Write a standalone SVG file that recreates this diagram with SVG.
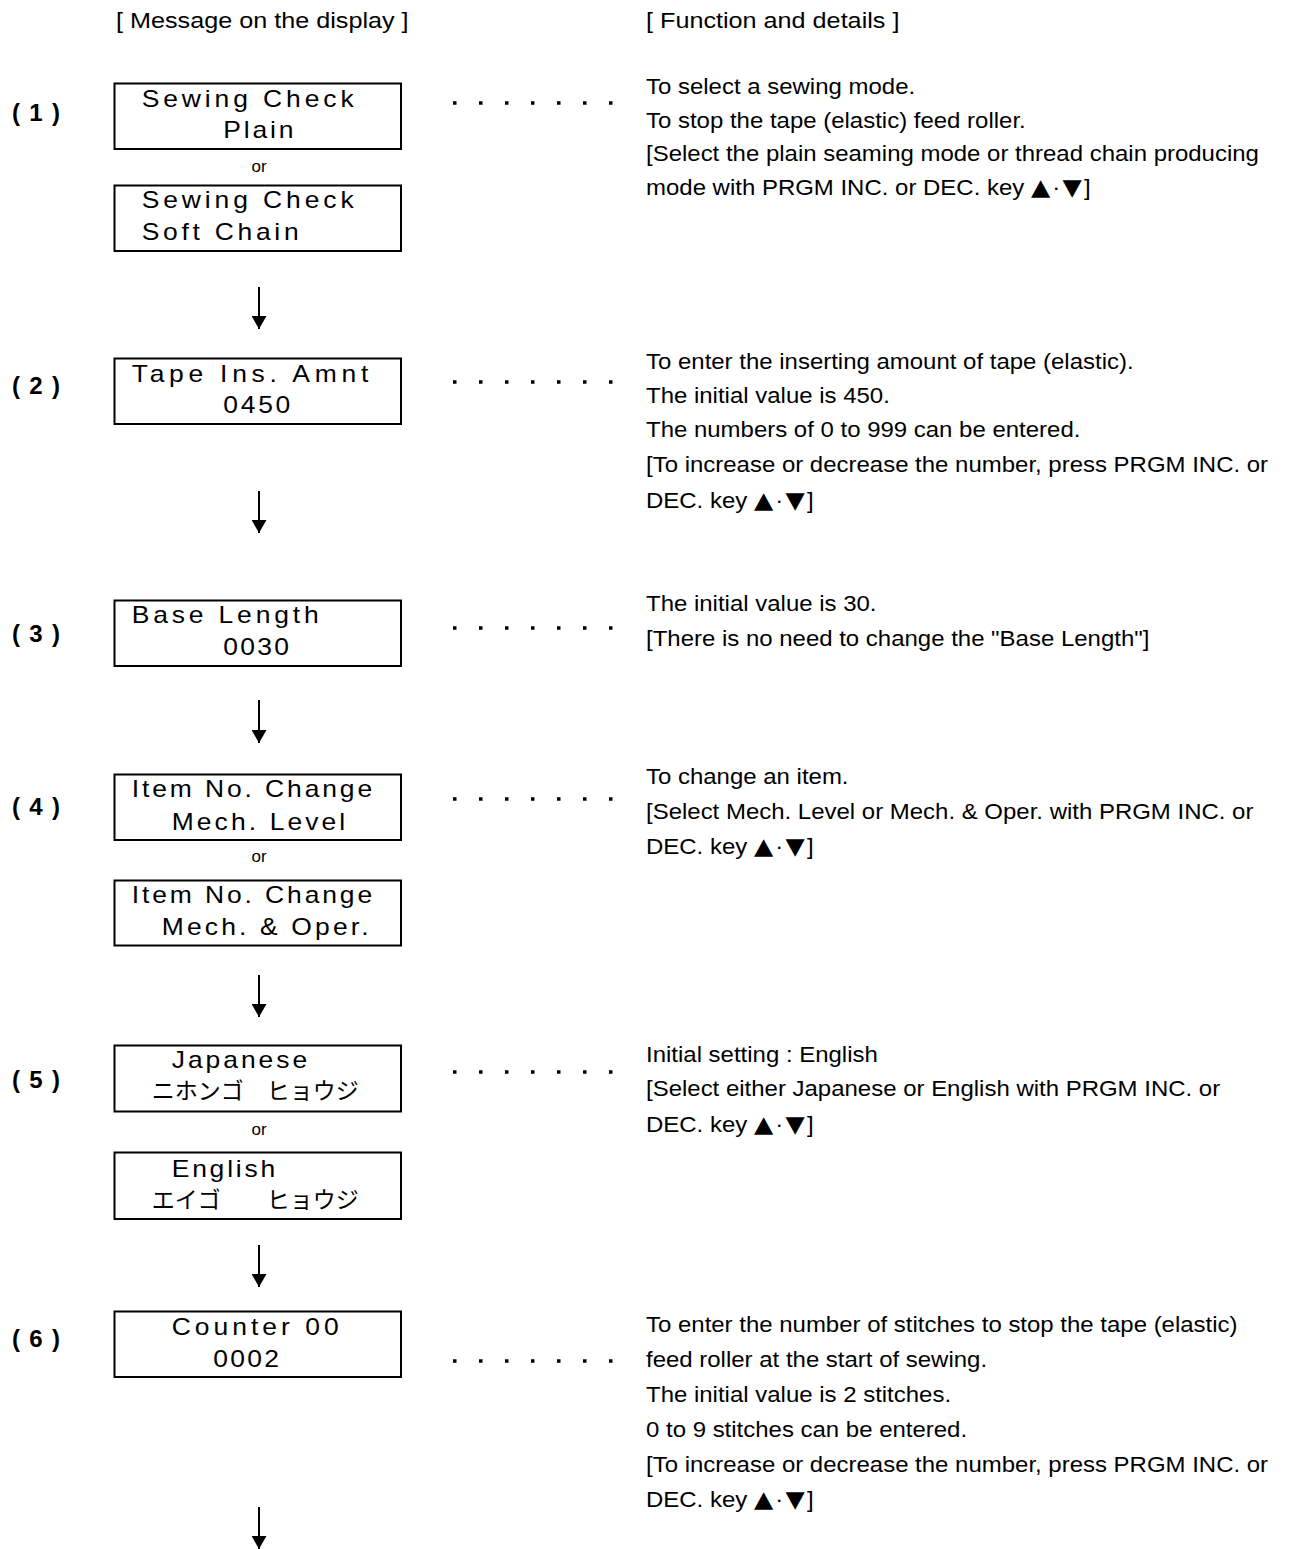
<svg xmlns="http://www.w3.org/2000/svg" width="1290" height="1549" viewBox="0 0 1290 1549">
<style>
.bg{fill:#fff}
.box{fill:#fff;stroke:#000;stroke-width:2}
.lcd{font-family:"Liberation Sans","Noto Sans CJK JP",sans-serif;font-size:23px;fill:#000}
.kana{font-family:"Noto Sans CJK JP",sans-serif;font-size:23px;fill:#000}
.or{font-family:"Liberation Sans",sans-serif;font-size:17px;fill:#000;text-anchor:middle}
.num{font-family:"Liberation Sans",sans-serif;font-size:24px;font-weight:bold;fill:#000}
.hd{font-family:"Liberation Sans",sans-serif;font-size:22.5px;fill:#000}
.tx{font-family:"Liberation Sans",sans-serif;font-size:22px;fill:#000}
.tri{font-family:"DejaVu Sans",sans-serif;font-size:23px}
.arr{stroke:#000;stroke-width:2;fill:none}
.dots{stroke:#000;stroke-width:3.5;stroke-dasharray:3.5 22.5;fill:none}
</style>
<defs>
<marker id="ah" viewBox="0 0 13 15" refX="13" refY="7.5" markerWidth="13" markerHeight="15" markerUnits="userSpaceOnUse" orient="auto">
<path d="M0,0 L13,7.5 L0,15 Z" fill="#000"/>
</marker>
</defs>
<rect class="bg" x="0" y="0" width="1290" height="1549"/>

<g id="headers">
<text class="hd" transform="translate(116,28) scale(1.12,1)">[ Message on the display ]</text>
<text class="hd" transform="translate(646,28) scale(1.12,1)">[ Function and details ]</text>
</g>

<g id="step-labels">
<text class="num" x="12" y="121" textLength="48" lengthAdjust="spacing">(1)</text>
<text class="num" x="12" y="394" textLength="48" lengthAdjust="spacing">(2)</text>
<text class="num" x="12" y="642" textLength="48" lengthAdjust="spacing">(3)</text>
<text class="num" x="12" y="815" textLength="48" lengthAdjust="spacing">(4)</text>
<text class="num" x="12" y="1088" textLength="48" lengthAdjust="spacing">(5)</text>
<text class="num" x="12" y="1347" textLength="48" lengthAdjust="spacing">(6)</text>
</g>

<g id="node1a">
<rect class="box" x="114.5" y="83.5" width="286.5" height="65.5"/>
<text class="lcd" transform="translate(141.7,107.3) scale(1.15,1)" textLength="184.3" lengthAdjust="spacing">Sewing Check</text>
<text class="lcd" transform="translate(223.3,138.3) scale(1.15,1)" textLength="60.9" lengthAdjust="spacing">Plain</text>
</g>
<text class="or" x="259" y="172">or</text>
<g id="node1b">
<rect class="box" x="114.5" y="185.5" width="286.5" height="65.5"/>
<text class="lcd" transform="translate(141.7,208.3) scale(1.15,1)" textLength="184.3" lengthAdjust="spacing">Sewing Check</text>
<text class="lcd" transform="translate(141.7,240) scale(1.15,1)" textLength="136.5" lengthAdjust="spacing">Soft Chain</text>
</g>

<g id="node2">
<rect class="box" x="114.5" y="358.5" width="286.5" height="65.5"/>
<text class="lcd" transform="translate(131.7,381.7) scale(1.15,1)" textLength="205.7" lengthAdjust="spacing">Tape Ins. Amnt</text>
<text class="lcd" transform="translate(223.3,413.3) scale(1.15,1)" textLength="58.3" lengthAdjust="spacing">0450</text>
</g>

<g id="node3">
<rect class="box" x="114.5" y="600.5" width="286.5" height="65.5"/>
<text class="lcd" transform="translate(131.7,623.3) scale(1.15,1)" textLength="162.6" lengthAdjust="spacing">Base Length</text>
<text class="lcd" transform="translate(223.3,655) scale(1.15,1)" textLength="57" lengthAdjust="spacing">0030</text>
</g>

<g id="node4a">
<rect class="box" x="114.5" y="774.5" width="286.5" height="65.5"/>
<text class="lcd" transform="translate(131.7,796.7) scale(1.15,1)" textLength="209.1" lengthAdjust="spacing">Item No. Change</text>
<text class="lcd" transform="translate(171.7,830) scale(1.15,1)" textLength="150.9" lengthAdjust="spacing">Mech. Level</text>
</g>
<text class="or" x="259" y="862">or</text>
<g id="node4b">
<rect class="box" x="114.5" y="880.5" width="286.5" height="65"/>
<text class="lcd" transform="translate(131.7,903.3) scale(1.15,1)" textLength="209.1" lengthAdjust="spacing">Item No. Change</text>
<text class="lcd" transform="translate(161.7,935) scale(1.15,1)" textLength="180" lengthAdjust="spacing">Mech. &amp; Oper.</text>
</g>

<g id="node5a">
<rect class="box" x="114.5" y="1045.5" width="286.5" height="66"/>
<text class="lcd" transform="translate(171.7,1068.3) scale(1.15,1)" textLength="117.8" lengthAdjust="spacing">Japanese</text>
<text class="kana" y="1099"><tspan x="151.7">ニホンゴ</tspan> <tspan x="266.7">ヒョウジ</tspan></text>
</g>
<text class="or" x="259" y="1135">or</text>
<g id="node5b">
<rect class="box" x="114.5" y="1152.5" width="286.5" height="66.5"/>
<text class="lcd" transform="translate(171.7,1176.7) scale(1.15,1)" textLength="90" lengthAdjust="spacing">English</text>
<text class="kana" y="1207.5"><tspan x="151.7">エイゴ</tspan> <tspan x="266.7">ヒョウジ</tspan></text>
</g>

<g id="node6">
<rect class="box" x="114.5" y="1311.5" width="286.5" height="65.5"/>
<text class="lcd" transform="translate(171.7,1335) scale(1.15,1)" textLength="145.2" lengthAdjust="spacing">Counter 00</text>
<text class="lcd" transform="translate(213.3,1366.7) scale(1.15,1)" textLength="57" lengthAdjust="spacing">0002</text>
</g>

<g id="connectors">
<line class="arr" x1="259" y1="287" x2="259" y2="329" marker-end="url(#ah)"/>
<line class="arr" x1="259" y1="491" x2="259" y2="533" marker-end="url(#ah)"/>
<line class="arr" x1="259" y1="700" x2="259" y2="743" marker-end="url(#ah)"/>
<line class="arr" x1="259" y1="975" x2="259" y2="1017" marker-end="url(#ah)"/>
<line class="arr" x1="259" y1="1245" x2="259" y2="1287" marker-end="url(#ah)"/>
<line class="arr" x1="259" y1="1507" x2="259" y2="1549" marker-end="url(#ah)"/>
<line class="dots" x1="453" y1="103" x2="615" y2="103"/>
<line class="dots" x1="453" y1="382" x2="615" y2="382"/>
<line class="dots" x1="453" y1="628" x2="615" y2="628"/>
<line class="dots" x1="453" y1="799" x2="615" y2="799"/>
<line class="dots" x1="453" y1="1072" x2="615" y2="1072"/>
<line class="dots" x1="453" y1="1361" x2="615" y2="1361"/>
</g>

<g id="details" class="tx">
<g transform="translate(646,0) scale(1.09,1)">
<text x="0" y="94">To select a sewing mode.</text>
<text x="0" y="128">To stop the tape (elastic) feed roller.</text>
<text x="0" y="161">[Select the plain seaming mode or thread chain producing</text>
<text x="0" y="195">mode with PRGM INC. or DEC. key <tspan class="tri">▲</tspan><tspan dx="2">·</tspan><tspan class="tri" dx="2">▼</tspan><tspan dx="2">]</tspan></text>

<text x="0" y="369">To enter the inserting amount of tape (elastic).</text>
<text x="0" y="403">The initial value is 450.</text>
<text x="0" y="437">The numbers of 0 to 999 can be entered.</text>
<text x="0" y="472">[To increase or decrease the number, press PRGM INC. or</text>
<text x="0" y="508">DEC. key <tspan class="tri">▲</tspan><tspan dx="2">·</tspan><tspan class="tri" dx="2">▼</tspan><tspan dx="2">]</tspan></text>

<text x="0" y="611">The initial value is 30.</text>
<text x="0" y="646">[There is no need to change the "Base Length"]</text>

<text x="0" y="784">To change an item.</text>
<text x="0" y="819">[Select Mech. Level or Mech. &amp; Oper. with PRGM INC. or</text>
<text x="0" y="854">DEC. key <tspan class="tri">▲</tspan><tspan dx="2">·</tspan><tspan class="tri" dx="2">▼</tspan><tspan dx="2">]</tspan></text>

<text x="0" y="1062">Initial setting : English</text>
<text x="0" y="1096">[Select either Japanese or English with PRGM INC. or</text>
<text x="0" y="1132">DEC. key <tspan class="tri">▲</tspan><tspan dx="2">·</tspan><tspan class="tri" dx="2">▼</tspan><tspan dx="2">]</tspan></text>

<text x="0" y="1332">To enter the number of stitches to stop the tape (elastic)</text>
<text x="0" y="1367">feed roller at the start of sewing.</text>
<text x="0" y="1402">The initial value is 2 stitches.</text>
<text x="0" y="1437">0 to 9 stitches can be entered.</text>
<text x="0" y="1472">[To increase or decrease the number, press PRGM INC. or</text>
<text x="0" y="1507">DEC. key <tspan class="tri">▲</tspan><tspan dx="2">·</tspan><tspan class="tri" dx="2">▼</tspan><tspan dx="2">]</tspan></text>
</g>
</g>
</svg>
